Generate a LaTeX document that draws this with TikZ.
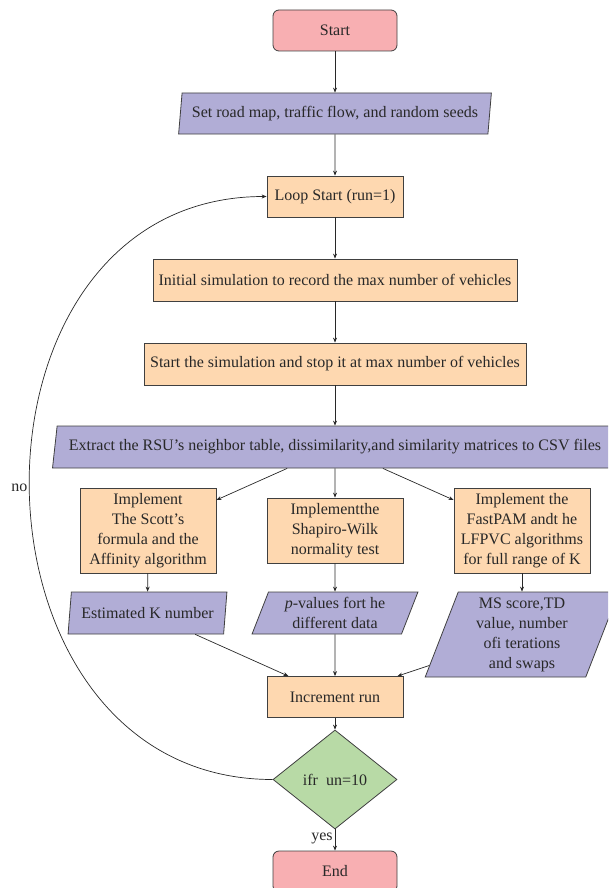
\documentclass[tikz,border=0pt]{standalone}
\usepackage{fontspec}
\setmainfont{Liberation Serif}
\usetikzlibrary{shapes.geometric,arrows.meta}
\definecolor{startfill}{RGB}{248,175,178}
\definecolor{iofill}{RGB}{177,173,214}
\definecolor{procfill}{RGB}{254,216,176}
\definecolor{decfill}{RGB}{184,218,166}
\definecolor{edgecol}{RGB}{64,64,64}
\definecolor{txtcol}{RGB}{40,40,40}
\tikzset{
  base/.style={draw=edgecol, line width=0.8pt, text=txtcol, font=\fontsize{16}{20}\selectfont, align=center, inner sep=2pt},
  termbox/.style={base, rectangle, rounded corners=6pt, fill=startfill, minimum width=124pt, minimum height=41pt},
  procbox/.style={base, rectangle, fill=procfill, minimum height=41pt},
  iobox/.style={base, trapezium, trapezium stretches=true, fill=iofill, minimum height=41pt},
  decbox/.style={base, diamond, fill=decfill, minimum width=124pt, minimum height=99pt},
  arr/.style={-{Stealth[length=5pt,width=4pt]}, draw=txtcol, line width=0.7pt},
  lbl/.style={text=txtcol, font=\fontsize{16}{20}\selectfont, inner sep=2pt},
}
\begin{document}
\begin{tikzpicture}[x=1pt,y=-1pt]
\useasboundingbox (0,0) rectangle (608,888);
\clip (0,0) rectangle (608,888);
\node[termbox] (start) at (335,30.5) {Start};
\node[iobox, minimum width=314pt, trapezium left angle=80, trapezium right angle=100] (setup) at (335,113.5) {Set road map, traffic flow, and random seeds};
\node[procbox, minimum width=136pt] (loop) at (335,196.5) {Loop Start (run=1)};
\node[procbox, minimum width=364pt, minimum height=42pt] (init) at (335,280) {Initial simulation to record the max number of vehicles};
\node[procbox, minimum width=382pt, minimum height=42pt] (sim) at (335,364) {Start the simulation and stop it at max number of vehicles};
\node[iobox, minimum width=566pt, minimum height=42pt, trapezium left angle=76.6, trapezium right angle=103.4] (extract) at (335,447) {Extract the RSU’s neighbor table, dissimilarity,and similarity matrices to CSV files};
\node[procbox, minimum width=136pt, minimum height=85pt] (scott) at (148,530.5) {Implement\\The Scott’s\\formula and the\\Affinity algorithm};
\node[procbox, minimum width=136pt, minimum height=65pt] (shapiro) at (335,530.5) {Implementthe\\Shapiro-Wilk\\normality test};
\node[procbox, minimum width=136pt, minimum height=85pt] (fastpam) at (522,530.5) {Implement the\\FastPAM andt he\\LFPVC algorithms\\for full range of K};
\node[iobox, minimum width=159pt, minimum height=42pt, trapezium left angle=79, trapezium right angle=101] (estk) at (147.5,613) {Estimated K number};
\node[iobox, minimum width=166pt, minimum height=42pt, trapezium left angle=70, trapezium right angle=110] (pval) at (335,613) {\textit{p}-values fort he\\different data};
\node[iobox, minimum width=194pt, minimum height=85pt, trapezium left angle=72.4, trapezium right angle=107.6] (ms) at (522,634.5) {MS score,TD\\value, number\\ofi terations\\and swaps};
\node[procbox, minimum width=136pt] (incr) at (335,697) {Increment run};
\node[decbox] (dec) at (335,779.5) {ifr\ \ un=10};
\node[termbox] (end) at (335,871.5) {End};
\draw[arr] (start) -- (setup);
\draw[arr] (setup) -- (loop);
\draw[arr] (loop) -- (init);
\draw[arr] (init) -- (sim);
\draw[arr] (sim) -- (extract);
\draw[arr] (extract) -- (scott);
\draw[arr] (extract) -- (shapiro);
\draw[arr] (extract) -- (fastpam);
\draw[arr] (scott) -- (estk);
\draw[arr] (shapiro) -- (pval);
\draw[arr] (fastpam) -- (ms);
\draw[arr] (estk) -- (incr);
\draw[arr] (pval) -- (incr);
\draw[arr] (ms) -- (incr);
\draw[arr] (incr) -- (dec);
\draw[arr] (dec) -- (end) node[lbl, left, pos=0.45] {yes};
\draw[arr] (dec.west) .. controls +(-320,0) and +(-320,0) .. (loop.west) node[lbl, left, pos=0.5] {no};
\end{tikzpicture}
\end{document}
